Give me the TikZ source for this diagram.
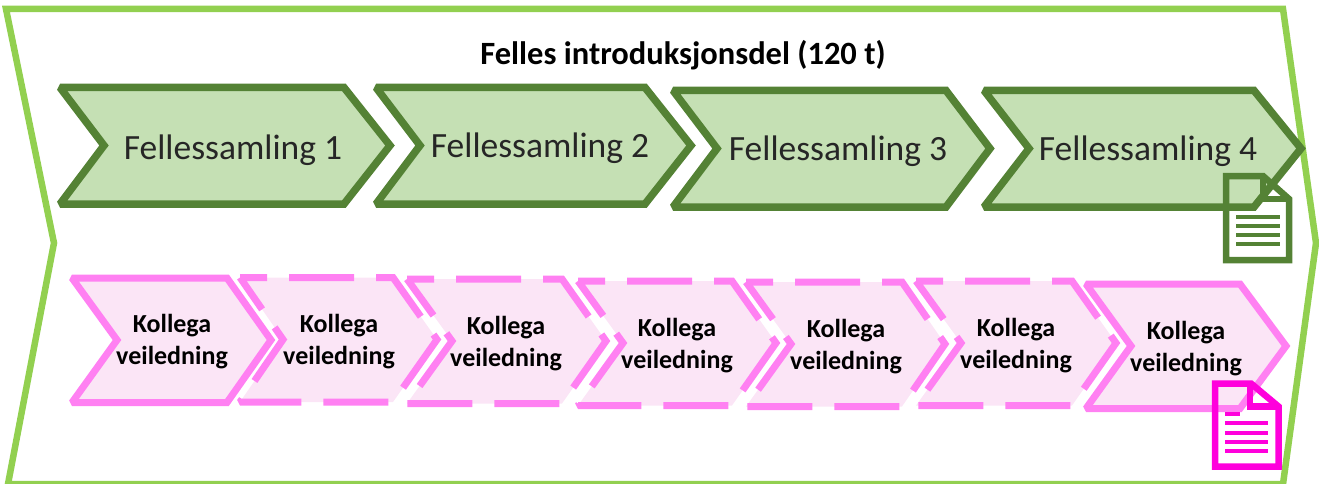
\documentclass[tikz,border=0pt]{standalone}
\usepackage{fontspec}
\setmainfont{Carlito}
\definecolor{outerg}{HTML}{92D050}
\definecolor{darkg}{HTML}{548235}
\definecolor{fillg}{HTML}{C5E0B4}
\definecolor{pinkl}{HTML}{FF80F2}
\definecolor{pinkf}{HTML}{FBE5F6}
\definecolor{docp}{HTML}{FF00DC}
\tikzset{
  felleschev/.style={draw=darkg,fill=fillg,line width=7.5pt,line join=miter,miter limit=2},
  kollchev/.style={draw=pinkl,line width=7pt,line join=miter,miter limit=2},
  kolldash/.style={kollchev,dash pattern=on 65pt off 22pt,dash phase=38pt},
  felleslabel/.style={inner sep=0pt,text=black!85,font=\fontsize{35.5}{38}\selectfont},
  kolllabel/.style={inner sep=0pt,align=center,text=black,font=\bfseries\fontsize{26}{32}\selectfont},
  titlelabel/.style={inner sep=0pt,text=black,font=\bfseries\fontsize{32.5}{36}\selectfont},
}
\newcommand{\fchev}[5]{% left notch shoulder tip top
  \draw[felleschev] (#1,#5) -- (#3,#5) -- (#4,#5+58) -- (#3,#5+116.5) -- (#1,#5+116.5) -- (#2,#5+58) -- cycle;}
\newcommand{\kchev}[6]{% style left notch shoulder tip top
  \path[fill=pinkf] (#2,#6) -- (#4,#6) -- (#5,#6+62) -- (#4,#6+124.5) -- (#2,#6+124.5) -- (#3,#6+62) -- cycle;
  \draw[#1] (#2,#6) -- (#4,#6) -- (#5,#6+62) -- (#4,#6+124.5) -- (#2,#6+124.5) -- (#3,#6+62) -- cycle;}
\begin{document}
\begin{tikzpicture}[x=1pt,y=-1pt]
\useasboundingbox (0,0) rectangle (1319,484);
\draw[outerg,line width=6.5pt,miter limit=10] (6,9) -- (1283,9) -- (1316,243) -- (1283,484) -- (8,484) -- (54,243) -- cycle;
\node[titlelabel] (title) at (683,55) {Felles introduksjonsdel (120 t)};

\fchev{60}{104}{344}{390}{87.5}
\fchev{376}{420}{645}{691}{87.5}
\fchev{673}{717}{946}{990}{90.5}
\fchev{984}{1029}{1254}{1301}{90.5}
\node[felleslabel] (f1) at (233,150) {Fellessamling 1};
\node[felleslabel] (f2) at (540,148) {Fellessamling 2};
\node[felleslabel] (f3) at (838,151) {Fellessamling 3};
\node[felleslabel] (f4) at (1148,151) {Fellessamling 4};

\kchev{kollchev}{72}{117}{227}{271}{278}
\kchev{kolldash}{240}{283}{393}{437}{277.5}
\kchev{kolldash}{407}{452}{562}{606}{279}
\kchev{kolldash}{578}{623}{732}{776}{281}
\kchev{kolldash}{746}{791}{902}{945}{282}
\kchev{kolldash}{916}{961}{1072}{1116}{281}
\kchev{kollchev}{1086}{1131}{1240}{1286}{284}
\node[kolllabel] (k1) at (172,342) {Kollega\\veiledning};
\node[kolllabel] (k2) at (339,342) {Kollega\\veiledning};
\node[kolllabel] (k3) at (506,344) {Kollega\\veiledning};
\node[kolllabel] (k4) at (677,346) {Kollega\\veiledning};
\node[kolllabel] (k5) at (846,347) {Kollega\\veiledning};
\node[kolllabel] (k6) at (1016,346) {Kollega\\veiledning};
\node[kolllabel] (k7) at (1186,349) {Kollega\\veiledning};

% document icons
\draw[darkg,line width=6.5pt] (1226,176) -- (1263,176) -- (1289,199) -- (1289,260) -- (1226,260) -- cycle;
\draw[darkg,line width=6.5pt] (1263,176) -- (1263,199) -- (1289,199);
\foreach \y in {217,226,235,244}
  \draw[darkg,line width=3.5pt] (1236,\y) -- (1280,\y);
\draw[docp,line width=6.5pt] (1215,383.5) -- (1251,383.5) -- (1278.5,406.5) -- (1278.5,466.5) -- (1215,466.5) -- cycle;
\draw[docp,line width=6.5pt] (1250,383.5) -- (1250,406.5) -- (1278.5,406.5);
\draw[docp,line width=3.5pt] (1225,414) -- (1240,414);
\foreach \y in {423,433,442,451}
  \draw[docp,line width=3.5pt] (1225,\y) -- (1268,\y);
\end{tikzpicture}
\end{document}
